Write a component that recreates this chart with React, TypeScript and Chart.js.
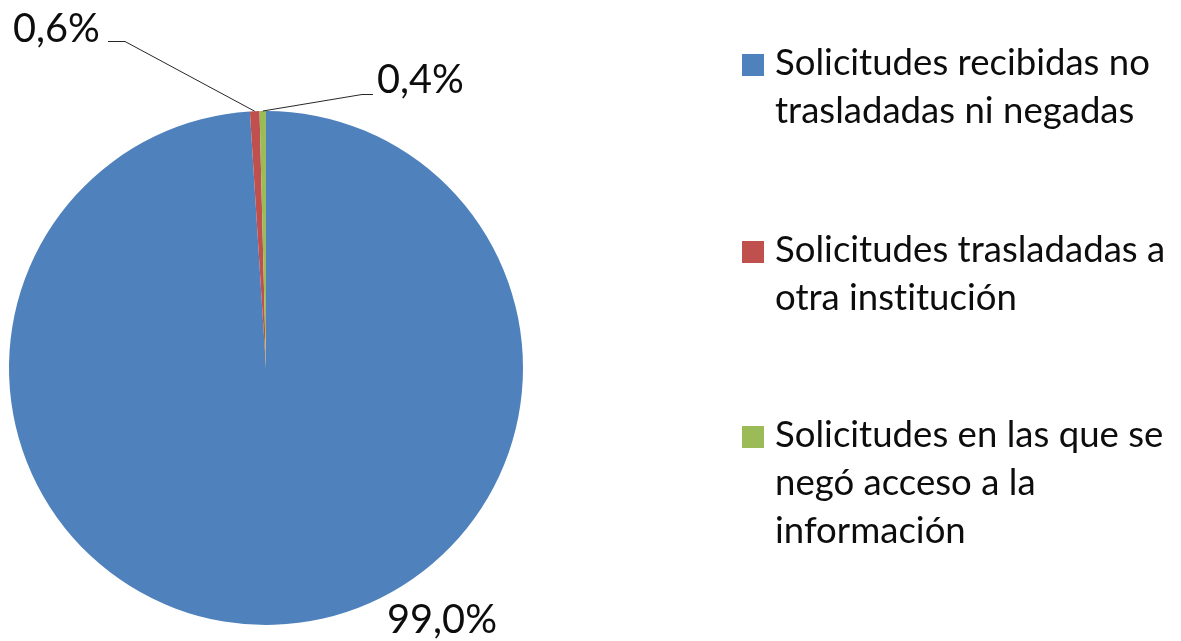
import React, { useEffect, useRef } from "react";
import { Chart, registerables } from "chart.js";

Chart.register(...registerables);

const categories = [
  "Solicitudes recibidas no trasladadas ni negadas",
  "Solicitudes trasladadas a otra institución",
  "Solicitudes en las que se negó acceso a la información",
];
const legendLines = [
  ["Solicitudes recibidas no", "trasladadas ni negadas"],
  ["Solicitudes trasladadas a", "otra institución"],
  ["Solicitudes en las que se", "negó acceso a la", "información"],
];
const values = [99.0, 0.6, 0.4];
const valueLabels = ["99,0%", "0,6%", "0,4%"];
const colors = ["#4F81BD", "#C0504D", "#9BBB59"];

const FONT = "Lato, 'Open Sans', sans-serif";
const W = 1181;
const H = 641;

const overlayPlugin = {
  id: "overlay",
  afterDraw(chart: any) {
    const ctx = chart.ctx as any;
    const meta = chart.getDatasetMeta(0);
    ctx.save();
    try {
      ctx.textRendering = "optimizeSpeed";
      ctx.letterSpacing = "0.01px";
    } catch (e) {}

    // legend
    ctx.font = `100px ${FONT}`;
    const lw = ctx.measureText(legendLines[0][0]).width;
    const legSize = (100 * 375) / lw;
    ctx.font = `${legSize}px ${FONT}`;
    ctx.fillStyle = "#0d0d0d";
    ctx.textBaseline = "alphabetic";
    ctx.textAlign = "left";
    const baselines = [75, 262, 447];
    const lineH = 48;
    legendLines.forEach((lines, i) => {
      const b = baselines[i];
      ctx.fillStyle = colors[i];
      ctx.fillRect(742, b - 21, 22, 22);
      ctx.fillStyle = "#0d0d0d";
      lines.forEach((t, j) => ctx.fillText(t, 775, b + j * lineH));
    });

    // value labels
    ctx.font = `100px ${FONT}`;
    const vw = ctx.measureText("99,0%").width;
    const valSize = (100 * 110) / vw;
    ctx.font = `${valSize}px ${FONT}`;
    const labelPos = [
      [387, 633],
      [13, 42],
      [377, 93],
    ];
    valueLabels.forEach((t, i) => {
      ctx.fillText(t, labelPos[i][0], labelPos[i][1]);
    });

    // leader lines
    const arcPoint = (i: number) => {
      const a = meta.data[i] as any;
      const mid = (a.startAngle + a.endAngle) / 2;
      return [a.x + Math.cos(mid) * a.outerRadius, a.y + Math.sin(mid) * a.outerRadius];
    };
    ctx.strokeStyle = "#262626";
    ctx.lineWidth = 1;
    const p1 = arcPoint(1);
    ctx.beginPath();
    ctx.moveTo(p1[0], p1[1]);
    ctx.lineTo(125, 41.5);
    ctx.lineTo(108, 41.5);
    ctx.stroke();
    const p2 = arcPoint(2);
    ctx.beginPath();
    ctx.moveTo(p2[0], p2[1]);
    ctx.lineTo(362, 94.5);
    ctx.lineTo(373, 94.5);
    ctx.stroke();

    ctx.restore();
  },
};

export default function App() {
  const ref = useRef<HTMLCanvasElement | null>(null);
  useEffect(() => {
    if (!ref.current) return;
    const chart = new Chart(ref.current, {
      type: "pie",
      data: {
        labels: categories,
        datasets: [
          {
            data: values,
            backgroundColor: colors,
            borderWidth: 0,
          },
        ],
      },
      options: {
        responsive: false,
        animation: false,
        events: [],
        layout: { padding: { left: 9, top: 111, right: W - 523, bottom: H - 625 } },
        plugins: {
          legend: { display: false },
          tooltip: { enabled: false },
        },
      },
      plugins: [overlayPlugin],
    });
    if ((document as any).fonts && (document as any).fonts.ready) {
      (document as any).fonts.ready.then(() => chart.draw());
    }
    return () => chart.destroy();
  }, []);
  return (
    <div style={{ position: "fixed", left: 0, top: 0, width: W, height: H, background: "#fff" }}>
      <canvas ref={ref} width={W} height={H} style={{ width: W, height: H, display: "block" }} />
    </div>
  );
}
